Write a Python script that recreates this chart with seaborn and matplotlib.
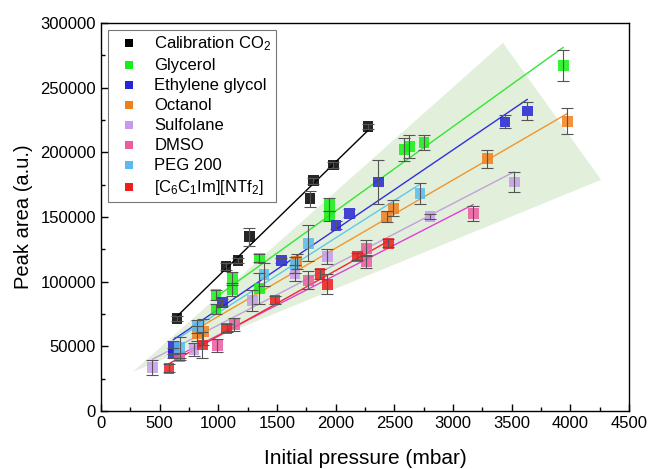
import numpy as np
import pandas as pd
import matplotlib
matplotlib.use('Agg')
import matplotlib.pyplot as plt
import seaborn as sns

# values
co2_p = [649, 1066, 1168, 1264, 1782, 1810, 1981, 2276]
co2_a = [71700, 111600, 116000, 134800, 164000, 177900, 190200, 219900]
co2_e = [2000, 3000, 2000, 7000, 6000, 2500, 2000, 2000]

gly_p = [980, 980, 1120, 1120, 1350, 1350, 1946, 1946, 2583, 2629, 2753, 3941]
gly_a = [89700, 78600, 102300, 93600, 118100, 94900, 159800, 150800, 202400, 204400, 207700, 267000]
gly_e = [4000, 4000, 5000, 5000, 3000, 12000, 5000, 4000, 9000, 9000, 6000, 12000]

eg_p = [616, 616, 1035, 1537, 2003, 2117, 2365, 3444, 3635]
eg_a = [49200, 44800, 83800, 116000, 143600, 152800, 177000, 223500, 232000]
eg_e = [5000, 4000, 3000, 2000, 3000, 3000, 17000, 5000, 7000]

oct_p = [821, 872, 1668, 2436, 2493, 3295, 3975]
oct_a = [60000, 61300, 115500, 150200, 156700, 195000, 224000]
oct_e = [6000, 10000, 6000, 4000, 6000, 7000, 10000]

sulf_p = [438, 793, 1292, 1654, 1929, 2804, 3523]
sulf_a = [33500, 47700, 85300, 106500, 119300, 150200, 177000]
sulf_e = [6000, 5000, 8000, 6000, 6000, 2000, 8000]

dmso_p = [673, 992, 1136, 1768, 2262, 2262, 3174]
dmso_a = [42000, 50500, 67000, 101000, 125800, 115500, 152800]
dmso_e = [3000, 5000, 5000, 7000, 6000, 5000, 6000]

peg_p = [673, 821, 1390, 1654, 1768, 2719]
peg_a = [49000, 65200, 105200, 112900, 129600, 168300]
peg_e = [8000, 5000, 9000, 6000, 14000, 8000]

il_p = [580, 864, 1071, 1483, 1867, 1929, 2185, 2449]
il_a = [33000, 51000, 63900, 85800, 106000, 98000, 119300, 129600]
il_e = [3000, 10000, 3000, 3000, 4000, 8000, 3000, 3000]

labels = ['Calibration CO$_2$', 'Glycerol', 'Ethylene glycol', 'Octanol',
          'Sulfolane', 'DMSO', 'PEG 200', '[C$_6$C$_1$Im][NTf$_2$]']
marker_colors = ['#000000', '#14f014', '#2424d8', '#f0801e',
                 '#c49cec', '#ec5aa0', '#58bcf0', '#ec1e1e']
line_colors = ['#000000', '#33e633', '#3030e0', '#f0962e',
               '#c0a0e0', '#e040d8', '#60c8e8', '#f02a2a']

# shaded band corners (mbar, peak area)
band_p = [273, 3427, 4263]
band_a = [30200, 284600, 178700]

series = [(co2_p, co2_a, co2_e), (gly_p, gly_a, gly_e), (eg_p, eg_a, eg_e),
          (oct_p, oct_a, oct_e), (sulf_p, sulf_a, sulf_e), (dmso_p, dmso_a, dmso_e),
          (peg_p, peg_a, peg_e), (il_p, il_a, il_e)]

frames = []
for lab, (p, a, e) in zip(labels, series):
    frames.append(pd.DataFrame({'p': p, 'a': a, 'e': e, 'series': lab}))
df = pd.concat(frames, ignore_index=True)

sns.set_style('ticks')
plt.rcParams['font.family'] = ['Liberation Sans', 'DejaVu Sans']
plt.rcParams['mathtext.fontset'] = 'custom'
plt.rcParams['mathtext.rm'] = 'Liberation Sans'
plt.rcParams['mathtext.it'] = 'Liberation Sans:italic'
plt.rcParams['text.color'] = 'black'
plt.rcParams['axes.labelcolor'] = 'black'

fig = plt.figure(figsize=(6.51, 4.69), dpi=100)
ax = fig.add_axes([0.155, 0.124, 0.811, 0.827])

ax.fill(band_p, band_a, color='#e2efdb', lw=0, zorder=0)

sns.scatterplot(data=df, x='p', y='a', hue='series', hue_order=labels,
                palette=dict(zip(labels, marker_colors)), marker='s', s=60,
                alpha=0.85, linewidth=0, ax=ax, zorder=3)

for lab, lc, (p, a, e) in zip(labels, line_colors, series):
    sns.regplot(x=np.array(p), y=np.array(a), scatter=False, ci=None, truncate=True,
                color=lc, line_kws={'lw': 1.0, 'zorder': 2}, ax=ax)
    ax.errorbar(p, a, yerr=e, fmt='none', ecolor='#555555', elinewidth=0.8,
                capsize=4, capthick=0.8, zorder=4)

ax.set_xlim(0, 4500)
ax.set_ylim(0, 300000)
ax.set_xticks(np.arange(0, 4501, 500))
ax.set_yticks(np.arange(0, 300001, 50000))
ax.set_xticks(np.arange(250, 4500, 500), minor=True)
ax.set_yticks(np.arange(25000, 300000, 50000), minor=True)
ax.tick_params(which='both', direction='in', top=False, right=False,
               labelsize=12, width=1, colors='black')
ax.tick_params(which='major', length=5)
ax.tick_params(which='minor', length=3)
ax.ticklabel_format(style='plain')
for s in ax.spines.values():
    s.set_visible(True)
    s.set_color('black')
    s.set_linewidth(1.0)

ax.set_xlabel('Initial pressure (mbar)', fontsize=15, labelpad=13)
ax.set_ylabel('Peak area (a.u.)', fontsize=14.5, labelpad=5)

leg = ax.legend(loc='upper left', fontsize=12, frameon=True, fancybox=False,
                edgecolor='#555555', borderpad=0.3, labelspacing=0.3,
                handletextpad=0.5, borderaxespad=0.4, markerscale=0.8)
leg.get_frame().set_linewidth(0.8)
for h in leg.legend_handles:
    h.set_alpha(1)

fig.savefig('out.png', dpi=100)
